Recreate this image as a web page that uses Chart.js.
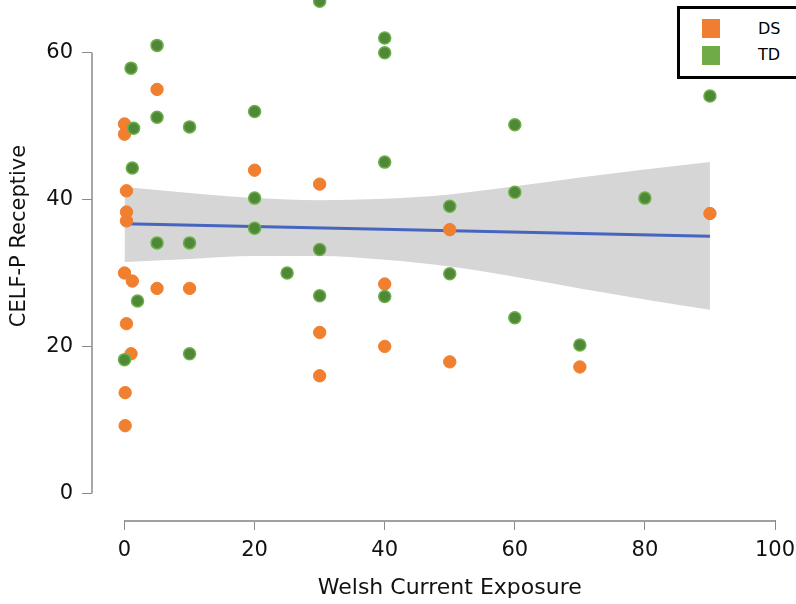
<!DOCTYPE html>
<html>
<head>
<meta charset="utf-8">
<script src="https://cdn.jsdelivr.net/npm/chart.js@4.4.1/dist/chart.umd.min.js"></script>
<style>
  html, body { margin: 0; padding: 0; background: #fff; }
  #wrap { position: relative; width: 796px; height: 604px; overflow: hidden; }
  #legend {
    position: absolute; left: 677px; top: 6px; width: 140px; height: 67px;
    border: 3px solid #000; background: #fff;
    font-family: "DejaVu Sans", sans-serif; font-size: 16px; color: #000;
  }
  .sw { position: absolute; left: 22px; width: 18px; height: 19px; }
  .lbl { position: absolute; left: 78px; line-height: 20px; }
</style>
</head>
<body>
<div id="wrap">
  <canvas id="chart" width="796" height="604"></canvas>
  <div id="legend">
    <div class="sw" style="top:10px;background:#ef7e33"></div><div class="lbl" style="top:10px">DS</div>
    <div class="sw" style="top:37px;background:#6fac46"></div><div class="lbl" style="top:36px">TD</div>
  </div>
</div>
<script>
// axis ticks
const xTicks = [0, 20, 40, 60, 80, 100];
const yTicks = [0, 20, 40, 60];

// DS group (orange)
const dsX = [0, 0, 0.3, 0.3, 0.3, 0, 1.2, 0.3, 1, 0.1, 0.1, 5, 5, 10, 20, 30, 30, 30, 40, 40, 50, 50, 70, 90];
const dsY = [50.3, 48.9, 41.2, 38.3, 37.1, 30.0, 28.9, 23.1, 19.0, 13.7, 9.2, 55.0, 27.9, 27.9, 44.0, 42.1, 21.9, 16.0, 28.5, 20.0, 35.9, 17.9, 17.2, 38.1];

// TD group (green)
const tdX = [30, 1, 5, 1.4, 5, 10, 1.2, 20, 20, 20, 5, 10, 25, 30, 30, 2, 0, 10, 40, 40, 40, 40, 50, 50, 60, 60, 60, 70, 80, 90];
const tdY = [67.0, 57.9, 61.0, 49.7, 51.2, 49.9, 44.3, 52.0, 40.2, 36.1, 34.1, 34.1, 30.0, 33.2, 26.9, 26.2, 18.2, 19.0, 62.0, 60.0, 45.1, 26.8, 39.1, 29.9, 50.2, 41.0, 23.9, 20.2, 40.2, 54.1];

// regression line and confidence band
const fitX = [0, 90];
const fitY = [36.7, 35.0];
const bandX = [0, 10, 20, 30, 40, 50, 60, 70, 80, 90];
const bandUpper = [41.7, 40.9, 40.2, 39.9, 40.1, 40.7, 41.8, 43.0, 44.1, 45.1];
const bandLower = [31.5, 31.9, 32.3, 32.3, 31.8, 30.9, 29.5, 27.9, 26.4, 25.0];

const pts = (xs, ys) => xs.map((x, i) => ({ x: x, y: ys[i] }));
const tickFont = { family: '"DejaVu Sans", sans-serif', size: 21 };

const axisPlugin = {
  id: 'axisPlugin',
  afterDraw(chart) {
    const { ctx, scales: { x, y }, chartArea } = chart;
    ctx.save();
    ctx.strokeStyle = '#8a8a8a';
    ctx.lineWidth = 1.5;
    ctx.beginPath();
    ctx.moveTo(chartArea.left, y.getPixelForValue(yTicks[0]));
    ctx.lineTo(chartArea.left, y.getPixelForValue(yTicks[yTicks.length - 1]));
    ctx.stroke();
    ctx.lineWidth = 2;
    ctx.strokeStyle = '#a0a0a0';
    ctx.beginPath();
    ctx.moveTo(x.getPixelForValue(xTicks[0]), chartArea.bottom + 1);
    ctx.lineTo(x.getPixelForValue(xTicks[xTicks.length - 1]), chartArea.bottom + 1);
    ctx.stroke();

    // axis titles
    ctx.fillStyle = '#111';
    ctx.textAlign = 'center';
    ctx.textBaseline = 'middle';
    ctx.font = '22px "DejaVu Sans", sans-serif';
    ctx.fillText('Welsh Current Exposure', x.getPixelForValue(50), 588);
    ctx.font = '21px "DejaVu Sans", sans-serif';
    ctx.translate(20, 236);
    ctx.rotate(-Math.PI / 2);
    ctx.fillText('CELF-P Receptive', 0, 0);
    ctx.restore();
  }
};

new Chart(document.getElementById('chart'), {
  type: 'scatter',
  data: {
    datasets: [
      {
        label: 'TD', data: pts(tdX, tdY), order: 0,
        backgroundColor: '#4f8836', borderColor: '#6cb04a', borderWidth: 1.5,
        pointRadius: 6, pointHoverRadius: 6
      },
      {
        label: 'DS', data: pts(dsX, dsY), order: 1,
        backgroundColor: '#f07f2f', borderColor: '#f07f2f', borderWidth: 1,
        pointRadius: 6.2, pointHoverRadius: 6.2
      },
      {
        label: 'fit', data: pts(fitX, fitY), order: 2, showLine: true,
        borderColor: '#4565bf', borderWidth: 3, pointRadius: 0, fill: false
      },
      {
        label: 'lower', data: pts(bandX, bandLower), order: 3, showLine: true,
        borderWidth: 0, borderColor: 'rgba(0,0,0,0)', pointRadius: 0, fill: false,
        cubicInterpolationMode: 'monotone'
      },
      {
        label: 'upper', data: pts(bandX, bandUpper), order: 4, showLine: true,
        borderWidth: 0, borderColor: 'rgba(0,0,0,0)', pointRadius: 0,
        cubicInterpolationMode: 'monotone',
        fill: '-1', backgroundColor: '#d6d6d6'
      }
    ]
  },
  options: {
    responsive: false,
    animation: false,
    events: [],
    layout: { autoPadding: false, padding: { top: 0, right: 21, left: 0, bottom: 0 } },
    scales: {
      x: {
        type: 'linear', min: -5, max: 100,
        afterBuildTicks: (s) => { s.ticks = xTicks.map(v => ({ value: v })); },
        afterFit: (s) => { s.height = 84; s.paddingLeft = 0; s.paddingRight = 0; },
        border: { display: false },
        grid: { drawOnChartArea: false, drawTicks: true, tickLength: 10, color: '#8a8a8a', lineWidth: 1 },
        ticks: { color: '#111', padding: 8, maxRotation: 0, font: tickFont }
      },
      y: {
        type: 'linear', min: -3.64, max: 67.18,
        afterBuildTicks: (s) => { s.ticks = yTicks.map(v => ({ value: v })); },
        afterFit: (s) => { s.width = 92; s.paddingTop = 0; s.paddingBottom = 0; },
        border: { display: false },
        grid: { drawOnChartArea: false, drawTicks: true, tickLength: 10, color: '#8a8a8a', lineWidth: 1 },
        ticks: { color: '#111', padding: 9, font: tickFont }
      }
    },
    plugins: {
      legend: { display: false },
      tooltip: { enabled: false }
    }
  },
  plugins: [axisPlugin]
});
</script>
</body>
</html>
